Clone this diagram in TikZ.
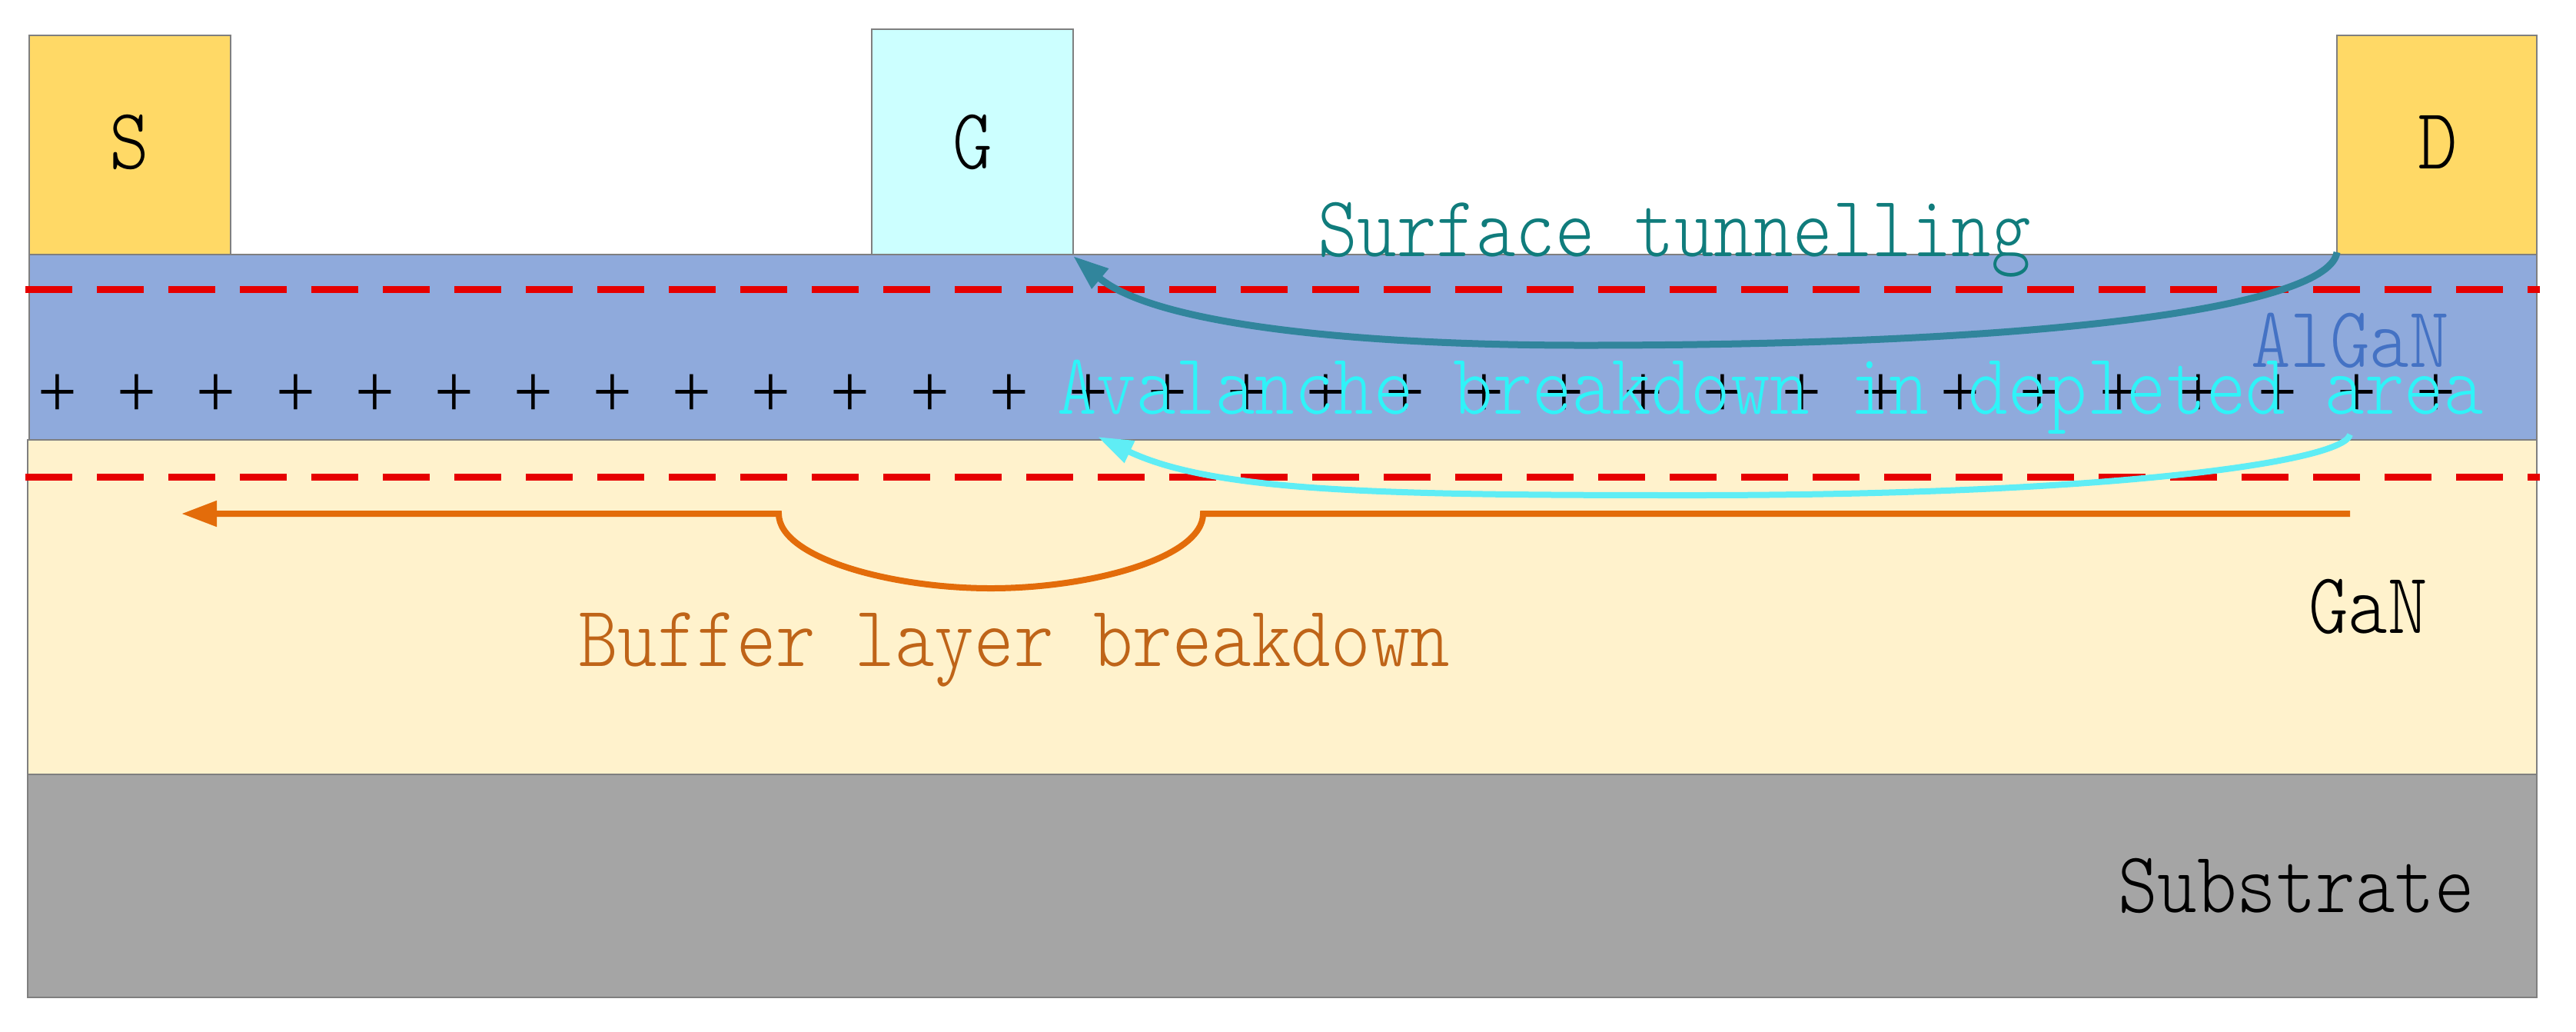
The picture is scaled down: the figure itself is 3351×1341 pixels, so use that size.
\documentclass[tikz,border=0pt]{standalone}
\usepackage{graphicx}
\usepackage{fontspec}
\usetikzlibrary{arrows.meta}
\newfontfamily\plusfont{Liberation Serif}
\definecolor{blueL}{HTML}{8FAADC}
\definecolor{ganL}{HTML}{FFF2CC}
\definecolor{subL}{HTML}{A5A5A5}
\definecolor{sdL}{HTML}{FFD966}
\definecolor{gateL}{HTML}{CCFFFF}
\definecolor{edgeL}{HTML}{7F7F7F}
\definecolor{tealA}{HTML}{31859C}
\definecolor{cyanA}{HTML}{5FEDF5}
\definecolor{orangeA}{HTML}{E36C0A}
\definecolor{tealT}{HTML}{107C7C}
\definecolor{cyanT}{HTML}{2FF3F8}
\definecolor{orangeT}{HTML}{BF6418}
\definecolor{blueT}{HTML}{4472C4}
\definecolor{redD}{HTML}{E60000}
\newcommand{\stretched}[1]{\scalebox{0.869}[1]{\ttfamily\fontseries{l}\fontsize{56.5}{60}\selectfont #1}}
\tikzset{
  layerbox/.style={draw=edgeL,line width=0.8pt,minimum width=0pt},
  lbl/.style={anchor=base west,inner sep=0pt,outer sep=0pt},
  plussign/.style={inner sep=0pt,outer sep=0pt,text=black},
  redline/.style={draw=redD,line width=4.5pt,dash pattern=on 30.5pt off 16pt},
  teala/.style={draw=tealA,line width=4.5pt,-{Triangle[length=23pt,width=16pt]}},
  cyana/.style={draw=cyanA,line width=4pt,-{Triangle[length=23pt,width=15pt]}},
  orangea/.style={draw=orangeA,line width=4pt,-{Triangle[length=23pt,width=16pt]}},
}
\begin{document}
\begin{tikzpicture}[x=0.5pt,y=-0.5pt]
\useasboundingbox (0,0) rectangle (3351,1341);
% layers
\path[layerbox,fill=subL] (36,1007) rectangle (3300,1297);
\path[layerbox,fill=ganL] (36,572) rectangle (3300,1007);
\path[layerbox,fill=blueL] (38,331) rectangle (3300,572);
\path[layerbox,fill=sdL] (38,46) rectangle (300,331);
\path[layerbox,fill=gateL] (1134,38) rectangle (1396,331);
\path[layerbox,fill=sdL] (3040,46) rectangle (3300,331);
% plus signs
\foreach \k in {0,...,30}{
  \node[plussign] (p\k) at ({75+103.13*\k},515) {\scalebox{1}[1.09]{\plusfont\fontsize{45}{45}\selectfont +}};
}
% red lines
\coordinate (ra) at (33,376); \coordinate (rb) at (3304,376);
\coordinate (rc) at (33,620); \coordinate (rd) at (3304,620);
\draw[redline] (ra) -- (rb);
\draw[redline] (rc) -- (rd);
% connectors
\coordinate (dCorner) at (3040,328);
\coordinate (gCorner) at (1396,333);
\coordinate (tMid) at (2060,449);
\draw[teala] (dCorner) .. controls (3030,395) and (2700,449) .. (tMid)
   .. controls (1750,449) and (1500,420) .. (gCorner);
\coordinate (cStart) at (3057,565);
\coordinate (cMid) at (2200,644);
\coordinate (cEnd) at (1428,568);
\draw[cyana] (cStart) .. controls (3050,600) and (2750,644) .. (cMid)
   .. controls (1800,644) and (1580,640) .. (cEnd);
\coordinate (oStart) at (3057,668);
\coordinate (oR) at (1565,668);
\coordinate (oB) at (1289,765);
\coordinate (oL) at (1013,668);
\coordinate (oEnd) at (236,668);
\draw[orangea] (oStart) -- (oR) .. controls (1565,725) and (1420,765) .. (oB)
   .. controls (1158,765) and (1013,725) .. (oL) -- (oEnd);
% text
\node[lbl] (tS) at (142,219) {\stretched{S}};
\node[lbl] (tG) at (1239,219) {\stretched{G}};
\node[lbl] (tD) at (3145,219) {\stretched{D}};
\node[lbl,text=tealT] (tSurf) at (1714,333) {\stretched{Surface tunnelling}};
\node[lbl,text=blueT] (tAl) at (2928,477) {\stretched{AlGaN}};
\node[lbl,text=cyanT] (tAv) at (1375,538) {\stretched{Avalanche breakdown in depleted area}};
\node[lbl,text=orangeT] (tBuf) at (752,866) {\stretched{Buffer layer breakdown}};
\node[lbl] (tGaN) at (3003,823) {\stretched{GaN}};
\node[lbl] (tSub) at (2755,1186) {\stretched{Substrate}};
\end{tikzpicture}
\end{document}
